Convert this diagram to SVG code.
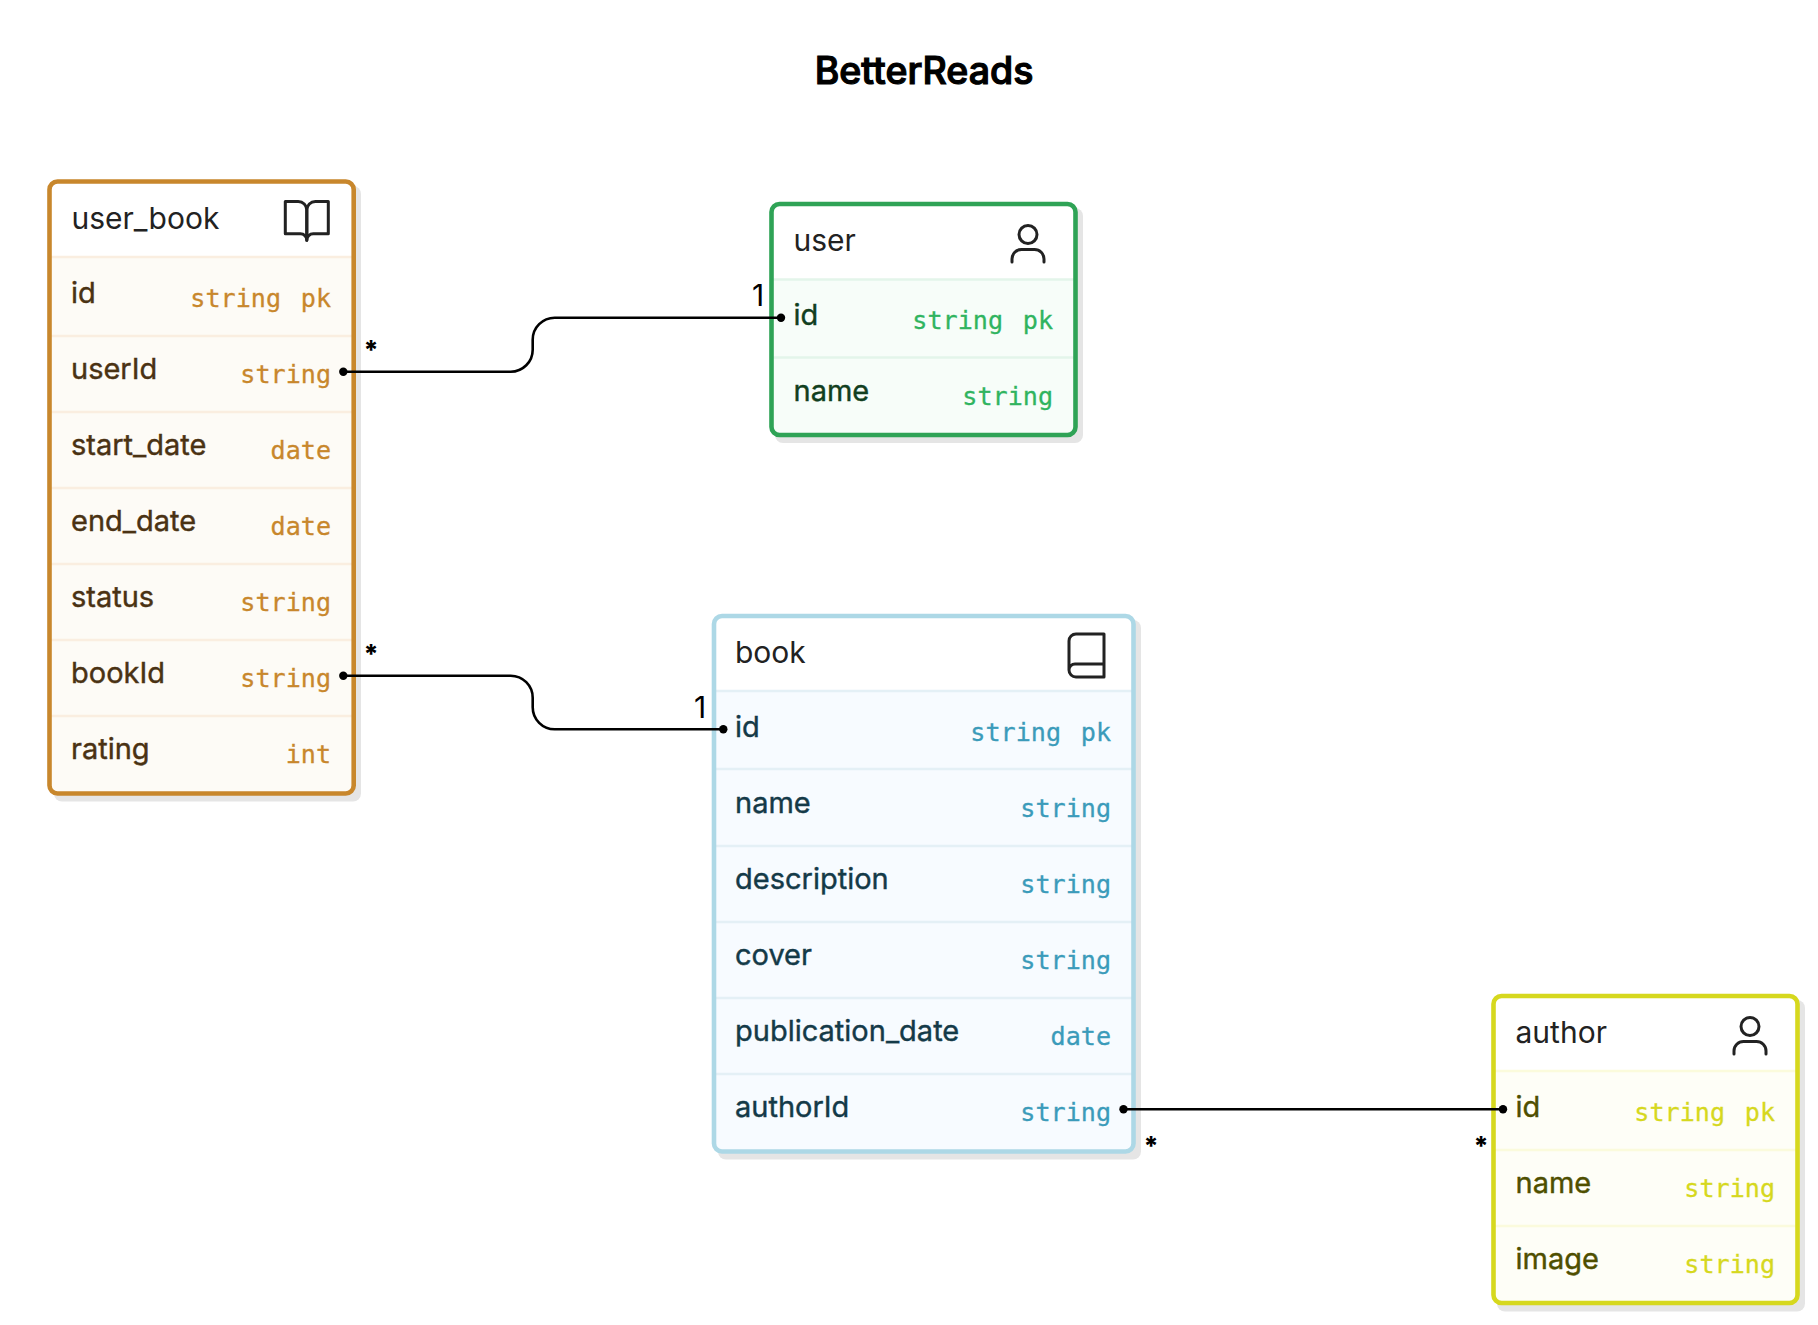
<svg xmlns="http://www.w3.org/2000/svg" xmlns:xlink="http://www.w3.org/1999/xlink" width="1818" height="1325" viewBox="0 0 1818 1325">
<style>
text{font-family:Inter,"Liberation Sans",sans-serif}
.title{font-size:37.500px;font-weight:500;fill:#000;stroke:#000;stroke-width:1.200px;text-anchor:middle}
.head{font-size:30px;fill:#222}
.f{font-size:29px;stroke-width:.4px}
.t{font-family:"DejaVu Sans Mono","Liberation Mono",monospace;font-size:25.100px;text-anchor:end;stroke-width:.3px}
.sh{fill:#e5e5e5}
.bd{fill:none;stroke-width:4.600}
.ic{fill:none;stroke:#222;stroke-width:3;stroke-linecap:round;stroke-linejoin:round}
.conn{fill:none;stroke:#000;stroke-width:2.600;marker-start:url(#dot);marker-end:url(#dot)}
.card{font-size:30px;fill:#000}
.star{font-size:26px;fill:#000;font-weight:800;text-anchor:middle}
.ub .f{fill:#4a3213;stroke:#4a3213}.ub .t{fill:#c8872c;stroke:#c8872c}.ub .bd{stroke:#c8872c}.ub .r{fill:#fdfbf6}.ub .s{stroke:#faeee0;stroke-width:2.500}
.us .f{fill:#123f20;stroke:#123f20}.us .t{fill:#30b45f;stroke:#30b45f}.us .bd{stroke:#2fa356}.us .r{fill:#f7fdf9}.us .s{stroke:#e3f5ea;stroke-width:2.500}
.bk .f{fill:#143a48;stroke:#143a48}.bk .t{fill:#3b9bba;stroke:#3b9bba}.bk .bd{stroke:#add8e6}.bk .r{fill:#f7fbff}.bk .s{stroke:#e4f0f6;stroke-width:2.500}
.au .f{fill:#4f4f00;stroke:#4f4f00}.au .t{fill:#d6d81e;stroke:#d6d81e}.au .bd{stroke:#d6d81e}.au .r{fill:#fefef7}.au .s{stroke:#fbfbdc;stroke-width:2.500}
</style>
<defs>
<marker id="dot" markerUnits="userSpaceOnUse" markerWidth="10" markerHeight="10" refX="5" refY="5"><circle cx="5" cy="5" r="4.200" fill="#000"/></marker>
<g id="person" class="ic"><circle cx="1028" cy="234.500" r="9"/><path d="M1012 262v-3a9.500 9.500 0 0 1 9.500-9.500h13a9.500 9.500 0 0 1 9.500 9.500v3"/></g>
</defs>
<rect width="1818" height="1325" fill="#fff"/>
<text class="title" x="924" y="84">BetterReads</text>

<g id="user_book" class="ub">
<rect class="sh" x="54" y="186" width="307" height="615.500" rx="8"/>
<rect x="49.500" y="181.500" width="304.200" height="612" rx="8" fill="#fff"/>
<path class="r" d="M50 257H354V785a8 8 0 0 1-8 8H58a8 8 0 0 1-8-8Z"/>
<path class="s" d="M50 257H354M50 336H354M50 412H354M50 488H354M50 564H354M50 640H354M50 716H354"/>
<rect class="bd" x="49.500" y="181.500" width="304.200" height="612" rx="8"/>
<text class="head" x="71.500" y="229">user_book</text>
<g class="ic" transform="translate(281 195) scale(2.150)" style="stroke-width:1.400"><path d="M2 3h6a4 4 0 0 1 4 4v14a3 3 0 0 0-3-3H2z"/><path d="M22 3h-6a4 4 0 0 0-4 4v14a3 3 0 0 1 3-3h7z"/></g>
<text class="f" x="71" y="303">id</text><text class="t" y="307"><tspan x="281">string</tspan><tspan x="331">pk</tspan></text>
<text class="f" x="71" y="379">userId</text><text class="t" x="331" y="383">string</text>
<text class="f" x="71" y="455">start_date</text><text class="t" x="331" y="459">date</text>
<text class="f" x="71" y="531">end_date</text><text class="t" x="331" y="535">date</text>
<text class="f" x="71" y="607">status</text><text class="t" x="331" y="611">string</text>
<text class="f" x="71" y="683">bookId</text><text class="t" x="331" y="687">string</text>
<text class="f" x="71" y="759">rating</text><text class="t" x="331" y="763">int</text>
</g>

<g id="user" class="us">
<rect class="sh" x="775" y="208" width="308" height="235" rx="8"/>
<rect x="771.500" y="204" width="304" height="231" rx="8" fill="#fff"/>
<path class="r" d="M772 279.500H1075V427a8 8 0 0 1-8 8H780a8 8 0 0 1-8-8Z"/>
<path class="s" d="M772 279.500H1075M772 357.500H1075"/>
<rect class="bd" x="771.500" y="204" width="304" height="231" rx="8"/>
<text class="head" x="793.500" y="251">user</text>
<use xlink:href="#person" href="#person"/>
<text class="f" x="793.500" y="325">id</text><text class="t" y="329"><tspan x="1003">string</tspan><tspan x="1053">pk</tspan></text>
<text class="f" x="793.500" y="401">name</text><text class="t" x="1053" y="405">string</text>
</g>

<g id="book" class="bk">
<rect class="sh" x="718" y="620" width="423" height="539.500" rx="8"/>
<rect x="714" y="616" width="419.500" height="535.500" rx="8" fill="#fff"/>
<path class="r" d="M714 691H1133V1143a8 8 0 0 1-8 8H722a8 8 0 0 1-8-8Z"/>
<path class="s" d="M714 691H1133M714 769H1133M714 846H1133M714 922H1133M714 998H1133M714 1074H1133"/>
<rect class="bd" x="714" y="616" width="419.500" height="535.500" rx="8"/>
<text class="head" x="735" y="663">book</text>
<path class="ic" d="M1104 634H1076a7 7 0 0 0-7 7V670a7 7 0 0 0 7 7H1104ZM1069 670a6 6 0 0 1 6-6H1104"/>
<text class="f" x="735" y="737">id</text><text class="t" y="741"><tspan x="1061">string</tspan><tspan x="1111">pk</tspan></text>
<text class="f" x="735" y="813">name</text><text class="t" x="1111" y="817">string</text>
<text class="f" x="735" y="889">description</text><text class="t" x="1111" y="893">string</text>
<text class="f" x="735" y="965">cover</text><text class="t" x="1111" y="969">string</text>
<text class="f" x="735" y="1041">publication_date</text><text class="t" x="1111" y="1045">date</text>
<text class="f" x="735" y="1117">authorId</text><text class="t" x="1111" y="1121">string</text>
</g>

<g id="author" class="au">
<rect class="sh" x="1497" y="1000" width="308" height="311.500" rx="8"/>
<rect x="1493.500" y="996" width="304" height="307" rx="8" fill="#fff"/>
<path class="r" d="M1494 1071H1797V1295a8 8 0 0 1-8 8H1502a8 8 0 0 1-8-8Z"/>
<path class="s" d="M1494 1071H1797M1494 1150H1797M1494 1226H1797"/>
<rect class="bd" x="1493.500" y="996" width="304" height="307" rx="8"/>
<text class="head" x="1515.500" y="1043">author</text>
<use xlink:href="#person" href="#person" transform="translate(722 792)"/>
<text class="f" x="1515.500" y="1117">id</text><text class="t" y="1121"><tspan x="1725">string</tspan><tspan x="1775">pk</tspan></text>
<text class="f" x="1515.500" y="1193">name</text><text class="t" x="1775" y="1197">string</text>
<text class="f" x="1515.500" y="1269">image</text><text class="t" x="1775" y="1273">string</text>
</g>

<g id="connectors">
<path class="conn" d="M343.300 371.700H510.700a22 22 0 0 0 22-22V339.700a22 22 0 0 1 22-22H781"/>
<path class="conn" d="M343.300 675.700H510.700a22 22 0 0 1 22 22V707.300a22 22 0 0 0 22 22H723.300"/>
<path class="conn" d="M1123.500 1109.300H1503"/>
<text class="star" x="371" y="359">*</text>
<text class="star" x="371" y="663">*</text>
<text class="star" x="1151" y="1155">*</text>
<text class="star" x="1481" y="1155">*</text>
<text class="card" x="758" y="306" text-anchor="middle">1</text>
<text class="card" x="700" y="718" text-anchor="middle">1</text>
</g>
</svg>
